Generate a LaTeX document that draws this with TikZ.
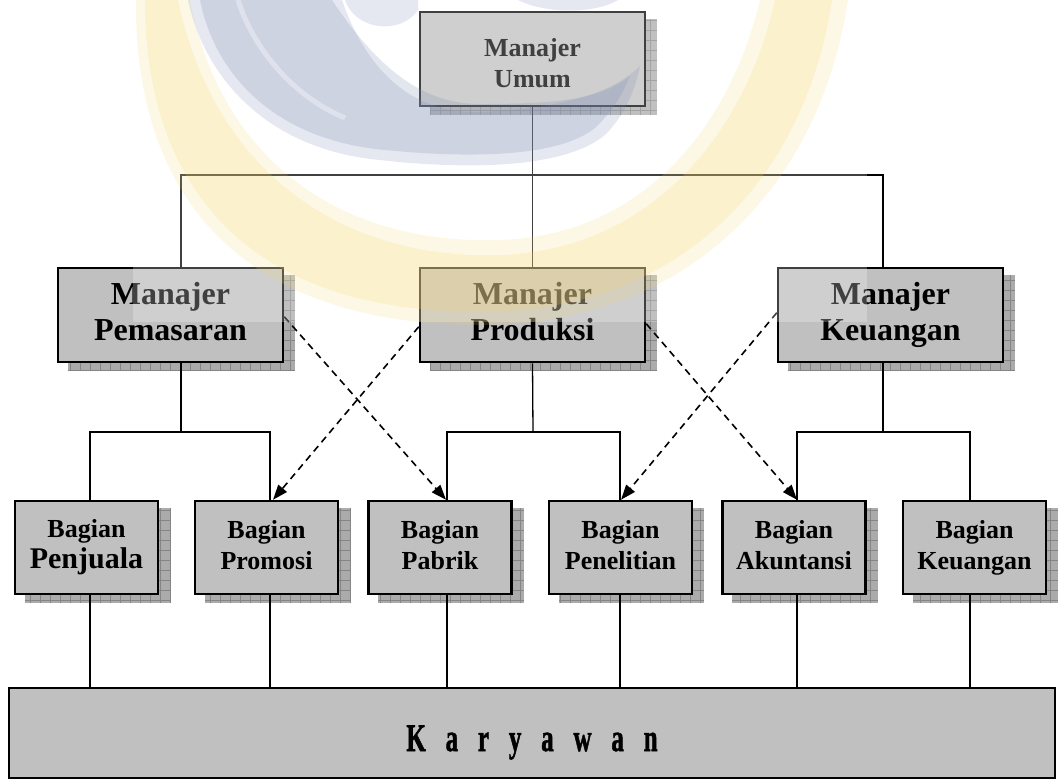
\documentclass[tikz,border=0pt]{standalone}
\usepackage{fontspec}
\usepackage{graphicx}
\setmainfont{Liberation Serif}
\newfontfamily\karfont{Liberation Serif}[BoldFeatures={FakeBold=1.6}]
\usetikzlibrary{arrows.meta,backgrounds,calc}
\definecolor{boxgray}{HTML}{C0C0C0}
\definecolor{shadowgray}{HTML}{ABABAB}
\definecolor{shadowline}{HTML}{858585}
\definecolor{wmblue}{RGB}{125,140,180}
\definecolor{wmyellow}{RGB}{245,212,100}
\newcommand\widespacing{\spaceskip=31pt\relax}
\newcommand\condensed[1]{\scalebox{0.64}[1]{#1}}
\begin{document}
\begin{tikzpicture}[x=1pt,y=-1pt,
  box/.style={draw=black,line width=2.5pt,fill=boxgray,inner sep=0pt,align=center,execute at end node={\vphantom{g}}},
  topbox/.style={draw=black,line width=2.5pt,fill=boxgray,inner sep=0pt,minimum width=225pt,minimum height=94pt},
  toptext/.style={inner sep=0pt,align=center,font=\fontsize{26}{31}\selectfont\bfseries,execute at end node={\vphantom{g}}},
  midbox/.style={box,minimum width=225pt,minimum height=94pt,font=\fontsize{32}{36}\selectfont\bfseries},
  lowbox/.style={box,minimum width=143pt,minimum height=93pt,font=\fontsize{26}{31}\selectfont\bfseries},
  bigbox/.style={draw=black,line width=2.5pt,fill=boxgray,inner sep=0pt,minimum width=1046pt,minimum height=90pt,text height=40pt,text depth=4pt,font={\karfont\fontsize{39}{44}\selectfont\bfseries\widespacing}},
  wire/.style={line width=1.3pt},
  dasharrow/.style={line width=1.6pt,dash pattern=on 7pt off 5pt,-{Triangle[length=15pt,width=11pt]}},
  shadowfill/.style={fill=shadowgray},
  shadowgrid/.style={draw=shadowline,line width=0.5pt},
]
\useasboundingbox (0,0) rectangle (1059,780);

% boxes
\node[topbox] (top) at (532.5,59) {};
\node[toptext] (toplabel) at (532.5,66) {Manajer\\Umum};
\node[midbox] (pem) at (170.5,315) {Manajer\\Pemasaran};
\node[midbox] (pro) at (532.5,315) {Manajer\\Produksi};
\node[midbox] (keu) at (890.5,315) {Manajer\\Keuangan};
\node[lowbox] (pj) at (86.5,547.5) {Bagian\\{\fontsize{30}{31}\selectfont Penjuala}};
\node[lowbox] (pm) at (266.5,547.5) {Bagian\\Promosi};
\node[lowbox] (pb) at (440,547.5) {Bagian\\Pabrik};
\node[lowbox] (pn) at (620.5,547.5) {Bagian\\Penelitian};
\node[lowbox] (ak) at (794,547.5) {Bagian\\Akuntansi};
\node[lowbox] (kb) at (974.5,547.5) {Bagian\\Keuangan};
\node[bigbox] (kar) at (532,733) {\condensed{K a r y a w a n}};

% shadows
\begin{scope}[on background layer]
\foreach \n in {top,pem,pro,keu,pj,pm,pb,pn,ak,kb}{
  \fill[shadowfill] ([shift={(11pt,-8pt)}]\n.north west) rectangle ([shift={(11pt,-8pt)}]\n.south east);
  \draw[shadowgrid,step=10pt] ([shift={(11pt,-8pt)}]\n.north west) grid ([shift={(11pt,-8pt)}]\n.south east);
}
\end{scope}

% solid connectors
\coordinate (bus1) at (533,175);
\coordinate (b2a) at (181,432);
\coordinate (b2b) at (533,432);
\coordinate (b2c) at (883,432);
\draw[wire] (top.south) -- (pro.north);
\draw[wire] ([xshift=10.5pt]pem.north) |- (bus1) -| ([xshift=-7.5pt]keu.north);
\draw[wire] ([xshift=10.5pt]pem.south) -- (b2a);
\draw[wire] ([xshift=3.5pt]pj.north) |- (b2a) -| ([xshift=3.5pt]pm.north);
\draw[wire] (pro.south) -- (b2b);
\draw[wire] ([xshift=7pt]pb.north) |- (b2b) -| ([xshift=-0.5pt]pn.north);
\draw[wire] ([xshift=-7.5pt]keu.south) -- (b2c);
\draw[wire] ([xshift=3pt]ak.north) |- (b2c) -| ([xshift=-4.5pt]kb.north);
\foreach \n/\s in {pj/3.5,pm/3.5,pb/7,pn/-0.5,ak/3,kb/-4.5}
  \draw[wire] ([xshift=\s pt]\n.south) -- ([xshift=\s pt]\n.south |- kar.north);

% dashed arrows
\draw[dasharrow] ([yshift=-50pt]pem.north east) -- ([xshift=6pt]pb.north);
\draw[dasharrow] ([yshift=-60pt]pro.north west) -- ([xshift=6.5pt]pm.north);
\draw[dasharrow] ([yshift=-57pt]pro.north east) -- ([xshift=3pt]ak.north);
\draw[dasharrow] ([yshift=-46pt]keu.north west) -- ([xshift=0.5pt]pn.north);

% watermark
\fill[white,opacity=0.25] (133,0) rectangle (867,322);
% yellow crescent (soft edge from two layers)
\fill[wmyellow,opacity=0.16] (136,0) .. controls (134,205) and (250,325) .. (480,325)
  .. controls (690,325) and (820,185) .. (848,0) -- (760,0)
  .. controls (730,125) and (645,235) .. (500,240)
  .. controls (345,245) and (222,165) .. (190,0) -- cycle;
\fill[wmyellow,opacity=0.2] (145,0) .. controls (145,195) and (255,312) .. (480,312)
  .. controls (680,312) and (805,180) .. (832,0) -- (775,0)
  .. controls (745,135) and (650,250) .. (500,255)
  .. controls (345,260) and (215,175) .. (178,0) -- cycle;
% blue band
\fill[wmblue,opacity=0.2] (188,0) .. controls (205,80) and (270,150) .. (380,160)
  .. controls (450,168) and (560,172) .. (605,135) .. controls (625,115) and (635,90) .. (640,66)
  .. controls (610,95) and (560,108) .. (480,112)
  .. controls (420,114) and (370,80) .. (342,0) -- cycle;
\fill[wmblue,opacity=0.22] (200,0) .. controls (215,75) and (275,140) .. (385,150)
  .. controls (455,157) and (555,160) .. (595,128) .. controls (612,112) and (622,95) .. (630,76)
  .. controls (600,100) and (555,104) .. (480,104)
  .. controls (425,104) and (380,72) .. (332,0) -- cycle;
\draw[white,opacity=0.35,line width=5pt] (238,0) .. controls (252,45) and (290,95) .. (345,118);
\fill[wmblue,opacity=0.2] (345,0) .. controls (355,30) and (400,36) .. (418,10) -- (418,0) -- cycle;
\fill[wmblue,opacity=0.2] (518,0) .. controls (545,14) and (595,14) .. (618,0) -- cycle;
\end{tikzpicture}
\end{document}
